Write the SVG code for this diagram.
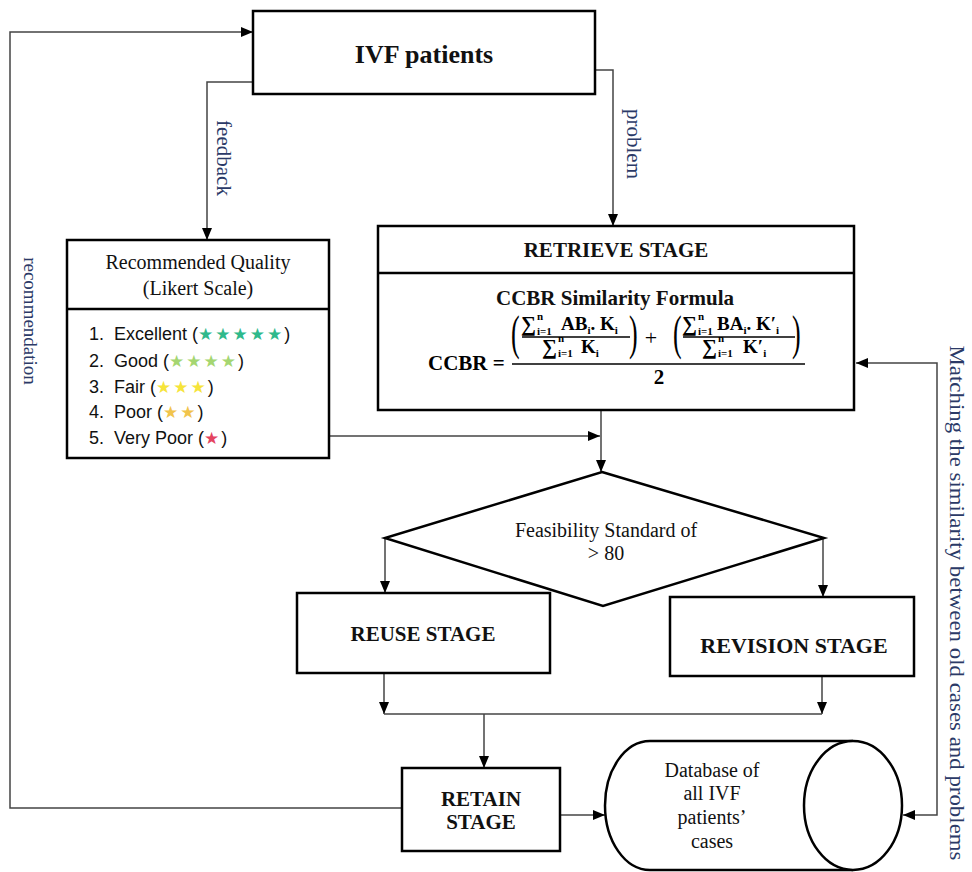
<svg xmlns="http://www.w3.org/2000/svg" width="972" height="872" viewBox="0 0 972 872">
<defs>
<style>
.box{fill:#fff;stroke:#000;stroke-width:2.5}
.conn{fill:none;stroke:#444;stroke-width:1.5}
.serif{font-family:"Liberation Serif","Times New Roman",serif;fill:#111}
.bold{font-weight:bold}
.lbl{font-family:"Liberation Serif","Times New Roman",serif;font-size:21px;fill:#2b3a67}
.sans{font-family:"Liberation Sans",Arial,sans-serif;font-size:18px;fill:#111}
.star{font-family:"DejaVu Sans",sans-serif;font-size:17px;letter-spacing:2px}
.m{font-family:"Liberation Serif","Times New Roman",serif;font-weight:bold;fill:#000}
.par{font-family:"Liberation Serif","Times New Roman",serif;font-size:26px;fill:#000}
</style>
<marker id="arr" markerUnits="userSpaceOnUse" markerWidth="13" markerHeight="11" refX="12" refY="5" orient="auto-start-reverse">
<path d="M0,0 L12,5 L0,10 z" fill="#000"/>
</marker>
</defs>
<rect width="972" height="872" fill="#fff"/>

<g id="connectors">
<polyline class="conn" points="402,808 10,808 10,32 253,32" marker-end="url(#arr)"/>
<polyline class="conn" points="253,82 207,82 207,240" marker-end="url(#arr)"/>
<polyline class="conn" points="595,70 613,70 613,226" marker-end="url(#arr)"/>
<polyline class="conn" points="329,436 600,436" marker-end="url(#arr)"/>
<polyline class="conn" points="601,410 601,472" marker-end="url(#arr)"/>
<polyline class="conn" points="385,538 385,593" marker-end="url(#arr)"/>
<polyline class="conn" points="823,538 823,597" marker-end="url(#arr)"/>
<polyline class="conn" points="384,673 384,714" marker-end="url(#arr)"/>
<polyline class="conn" points="822,676 822,714" marker-end="url(#arr)"/>
<polyline class="conn" points="384,714 822,714"/>
<polyline class="conn" points="484,714 484,768" marker-end="url(#arr)"/>
<polyline class="conn" points="560,815 605,815" marker-end="url(#arr)"/>
<polyline class="conn" points="856,363 937,363 937,815 903,815" marker-start="url(#arr)" marker-end="url(#arr)"/>
<text class="lbl" transform="translate(217,158) rotate(90)" text-anchor="middle">feedback</text>
<text class="lbl" transform="translate(627,144) rotate(90)" text-anchor="middle">problem</text>
<text class="lbl" style="font-size:19px" transform="translate(24,321) rotate(90)" text-anchor="middle">recommendation</text>
<text class="lbl" transform="translate(950,603) rotate(90)" text-anchor="middle" textLength="515" lengthAdjust="spacingAndGlyphs">Matching  the similarity between old cases and problems</text>
</g>

<g id="ivf">
<rect class="box" x="253" y="11" width="342" height="83"/>
<text class="serif bold" x="424" y="63" font-size="26" text-anchor="middle">IVF patients</text>
</g>

<g id="likert">
<rect class="box" x="67" y="240" width="262" height="218"/>
<line x1="67" y1="309" x2="329" y2="309" stroke="#000" stroke-width="2.5"/>
<text class="serif" x="198" y="269" font-size="20" text-anchor="middle">Recommended Quality</text>
<text class="serif" x="198" y="295" font-size="20" text-anchor="middle">(Likert Scale)</text>
<text class="sans" x="89" y="340">1.<tspan x="114">Excellent (</tspan><tspan class="star" fill="#2fb98b">★★★★★</tspan>)</text>
<text class="sans" x="89" y="367">2.<tspan x="114">Good (</tspan><tspan class="star" fill="#a5d671">★★★★</tspan>)</text>
<text class="sans" x="89" y="393">3.<tspan x="114">Fair (</tspan><tspan class="star" fill="#f6e43a">★★★</tspan>)</text>
<text class="sans" x="89" y="418">4.<tspan x="114">Poor (</tspan><tspan class="star" fill="#f1c44c">★★</tspan>)</text>
<text class="sans" x="89" y="444">5.<tspan x="114">Very Poor (</tspan><tspan class="star" fill="#e4435f">★</tspan>)</text>
</g>

<g id="retrieve">
<rect class="box" x="378" y="226" width="476" height="184"/>
<line x1="378" y1="273" x2="854" y2="273" stroke="#000" stroke-width="2.5"/>
<text class="serif bold" x="616" y="257" font-size="21" text-anchor="middle">RETRIEVE STAGE</text>
<text class="serif bold" x="615" y="305" font-size="21" text-anchor="middle">CCBR Similarity Formula</text>
<g id="formula">
<text class="m" x="428" y="370" font-size="21">CCBR =</text>
<line x1="512" y1="364" x2="805" y2="364" stroke="#000" stroke-width="1.5"/>
<text class="m" x="659" y="384" font-size="21" text-anchor="middle">2</text>
<text class="par" transform="translate(511,349) scale(1,1.9)">(</text>
<text class="par" transform="translate(629,349) scale(1,1.9)">)</text>
<text class="par" transform="translate(673,349) scale(1,1.9)">(</text>
<text class="par" transform="translate(792,349) scale(1,1.9)">)</text>
<text class="m" x="651" y="345" font-size="22" style="font-weight:normal" text-anchor="middle">+</text>
<text class="m" x="521" y="331" font-size="21">∑</text>
<text class="m" x="537" y="320" font-size="11">n</text>
<text class="m" x="537" y="335" font-size="11">i=1</text>
<text class="m" x="561" y="330" font-size="19">AB<tspan font-size="11" dy="4">i</tspan><tspan dy="-4">. K</tspan><tspan font-size="11" dy="4">i</tspan></text>
<line x1="522" y1="337" x2="630" y2="337" stroke="#000" stroke-width="1.3"/>
<text class="m" x="542" y="354" font-size="21">∑</text>
<text class="m" x="558" y="342" font-size="11">n</text>
<text class="m" x="558" y="357" font-size="11">i=1</text>
<text class="m" x="581" y="353" font-size="19">K<tspan font-size="11" dy="4">i</tspan></text>
<text class="m" x="682" y="331" font-size="21">∑</text>
<text class="m" x="698" y="320" font-size="11">n</text>
<text class="m" x="698" y="335" font-size="11">i=1</text>
<text class="m" x="717" y="330" font-size="19">BA<tspan font-size="11" dy="4">i</tspan><tspan dy="-4">. K′</tspan><tspan font-size="11" dy="4">i</tspan></text>
<line x1="683" y1="337" x2="795" y2="337" stroke="#000" stroke-width="1.3"/>
<text class="m" x="702" y="354" font-size="21">∑</text>
<text class="m" x="718" y="342" font-size="11">n</text>
<text class="m" x="718" y="357" font-size="11">i=1</text>
<text class="m" x="743" y="353" font-size="19">K′<tspan font-size="11" dy="4">i</tspan></text>
</g>
</g>

<g id="decision">
<polygon class="box" points="602,472 824,538 603,606 385,538"/>
<text class="serif" x="606" y="537" font-size="20" text-anchor="middle">Feasibility Standard of</text>
<text class="serif" x="606" y="560" font-size="20" text-anchor="middle">&gt; 80</text>
</g>

<g id="reuse">
<rect class="box" x="297" y="593" width="253" height="80"/>
<text class="serif bold" x="423" y="641" font-size="21" text-anchor="middle">REUSE STAGE</text>
</g>

<g id="revision">
<rect class="box" x="670" y="597" width="244" height="79"/>
<text class="serif bold" x="794" y="653" font-size="22" text-anchor="middle">REVISION STAGE</text>
</g>

<g id="retain">
<rect class="box" x="402" y="768" width="158" height="83"/>
<text class="serif bold" x="481" y="806" font-size="21" text-anchor="middle">RETAIN</text>
<text class="serif bold" x="481" y="829" font-size="21" text-anchor="middle">STAGE</text>
</g>

<g id="database">
<path class="box" d="M853,741 L650,741 A45,64.5 0 0 0 650,870 L853,870"/>
<ellipse class="box" cx="853" cy="805.5" rx="49" ry="64.5"/>
<text class="serif" x="712" y="777" font-size="20" text-anchor="middle">Database of</text>
<text class="serif" x="712" y="800" font-size="20" text-anchor="middle">all IVF</text>
<text class="serif" x="712" y="824" font-size="20" text-anchor="middle">patients’</text>
<text class="serif" x="712" y="848" font-size="20" text-anchor="middle">cases</text>
</g>
</svg>
